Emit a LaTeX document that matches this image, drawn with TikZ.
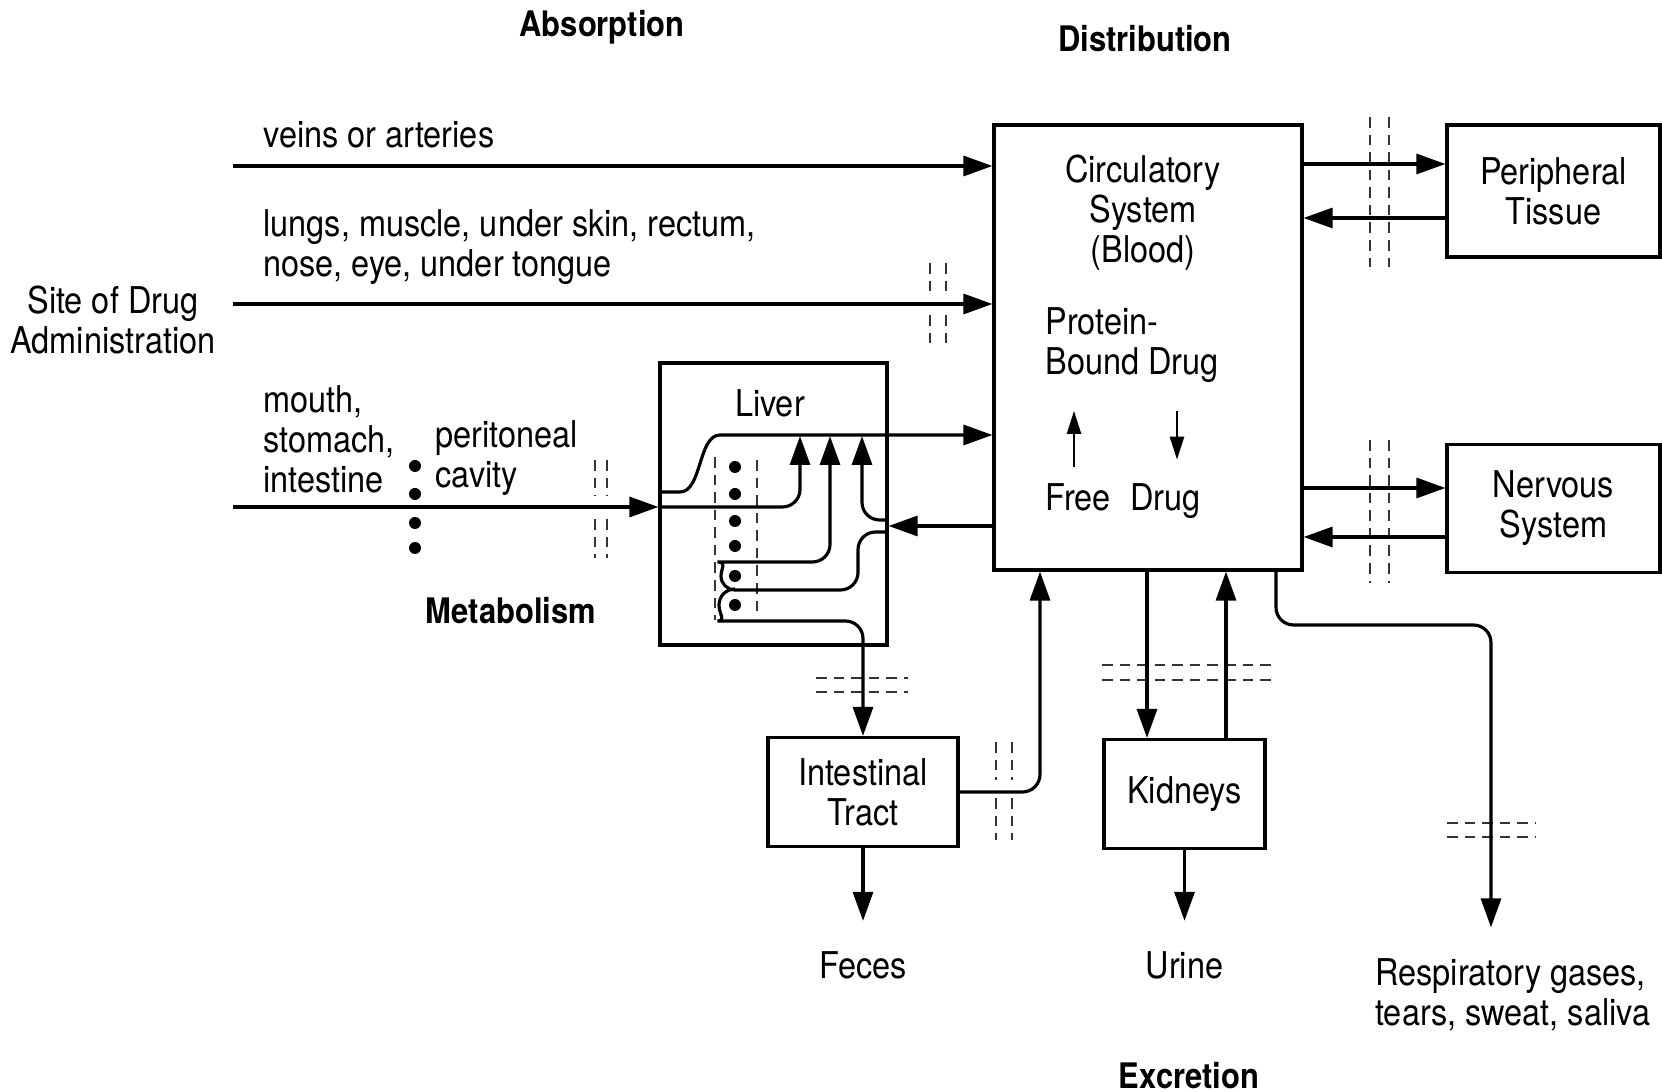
\documentclass[tikz,border=0pt]{standalone}
\usepackage{fontspec}
\setmainfont{TeX Gyre Heros}[FakeStretch=0.88]
\usetikzlibrary{calc,arrows.meta,positioning}
\tikzset{
  box/.style={draw=black, line width=0.9pt, align=center, inner sep=2pt},
  arr/.style={-{Triangle[length=2.9mm,width=2.0mm]}, line width=0.9pt},
  flow/.style={line width=0.9pt, rounded corners=5pt},
  smallarr/.style={-{Triangle[length=2.3mm,width=1.4mm]}, line width=0.7pt},
  membrane/.style={draw=black!80, line width=0.75pt, dash pattern=on 3pt off 2pt},
  phase/.style={font=\bfseries},
  dot/.style={circle, fill=black, inner sep=0pt, minimum size=0.12cm}
}
\begin{document}
\begin{tikzpicture}[font=\fontsize{10.5}{11.4}\selectfont]
  \useasboundingbox (0,0) rectangle (16.62,-10.92);

  % compartments
  \node[box, minimum width=3.08cm, minimum height=4.45cm] (circ) at (11.48,-3.475) {};
  \node[box, minimum width=2.13cm, minimum height=1.32cm] (periph) at (15.535,-1.91) {Peripheral\\Tissue};
  \node[box, minimum width=2.13cm, minimum height=1.28cm] (nerv) at (15.535,-5.085) {Nervous\\System};
  \node[box, minimum width=2.27cm, minimum height=2.82cm] (liver) at (7.735,-5.04) {};
  \node[box, minimum width=1.90cm, minimum height=1.09cm] (intest) at (8.63,-7.92) {Intestinal\\Tract};
  \node[box, minimum width=1.61cm, minimum height=1.09cm] (kid) at (11.845,-7.94) {Kidneys};

  % phase headings
  \node[phase] (absorp) at (6.02,-0.27) {Absorption};
  \node[phase] (distr) at (11.45,-0.39) {Distribution};
  \node[phase] (metab) at (5.11,-6.11) {Metabolism};
  \node[phase] (excr) at (11.89,-10.76) {Excretion};

  % inside the blood
  \node[align=center] (circtxt) at (11.43,-2.13) {Circulatory\\System\\(Blood)};
  \node[anchor=west, align=left] (bound) at (10.33,-3.45) {Protein-\\Bound Drug};
  \node[anchor=base west] (free) at (10.33,-5.11) {Free};
  \node[anchor=base west] (fdrug) at (11.18,-5.11) {Drug};
  \draw[smallarr, shorten <=0.5mm, shorten >=1.6mm] (free.north -| 10.74,0) -- (bound.south -| 10.74,0);
  \draw[smallarr, shorten <=1.6mm, shorten >=1.2mm] (bound.south -| 11.77,0) -- (fdrug.north -| 11.77,0);

  % routes of administration
  \node[align=center] (site) at (1.13,-3.20) {Site of Drug\\Administration};
  \node[anchor=west] (veinslbl) at (2.51,-1.35) {veins or arteries};
  \node[anchor=west, align=left] (lungslbl) at (2.51,-2.47) {lungs, muscle, under skin, rectum,\\nose, eye, under tongue};
  \node[anchor=west, align=left] (mouthlbl) at (2.51,-4.39) {mouth,\\stomach,\\intestine};
  \node[anchor=west, align=left] (perilbl) at (4.23,-4.58) {peritoneal\\cavity};
  \foreach \y [count=\i] in {-4.66,-4.94,-5.23,-5.48}
    \node[dot] (odot\i) at (4.15,\y) {};

  \coordinate (veins) at (2.33,-1.66);
  \coordinate (lungs) at (2.33,-3.04);
  \coordinate (mouth) at (2.33,-5.07);
  \draw[arr] (veins) -- (veins -| circ.west);
  \draw[arr] (lungs) -- (lungs -| circ.west);
  \draw[arr] (mouth) -- (mouth -| liver.west);

  % membranes
  \foreach \x in {9.30,9.46} {
    \draw[membrane] (\x,-2.63) -- (\x,-2.93);
    \draw[membrane] (\x,-3.15) -- (\x,-3.47);
  }
  \foreach \x in {5.95,6.07} {
    \draw[membrane] (\x,-4.60) -- (\x,-4.96);
    \draw[membrane] (\x,-5.19) -- (\x,-5.58);
  }
  \draw[membrane] (7.15,-4.57) -- (7.15,-6.20);
  \draw[membrane] (7.57,-4.60) -- (7.57,-6.12);
  \foreach \y in {-6.78,-6.92} \draw[membrane] (8.16,\y) -- (9.08,\y);
  \foreach \x in {9.96,10.12} {
    \draw[membrane] (\x,-7.42) -- (\x,-7.80);
    \draw[membrane] (\x,-7.98) -- (\x,-8.40);
  }
  \foreach \y in {-6.65,-6.80} \draw[membrane] (11.02,\y) -- (12.75,\y);
  \foreach \y in {-8.23,-8.37} \draw[membrane] (14.47,\y) -- (15.36,\y);
  \foreach \x in {13.70,13.89} {
    \draw[membrane] (\x,-1.17) -- (\x,-2.67);
    \draw[membrane] (\x,-4.40) -- (\x,-5.83);
  }

  % liver
  \node (liverlbl) at (7.70,-4.03) {Liver};
  \foreach \y [count=\i] in {-4.67,-4.94,-5.21,-5.46,-5.76,-6.05}
    \node[dot] (ldot\i) at (7.35,\y) {};
  \coordinate (j1) at (8.00,-4.36);
  \coordinate (j2) at (8.30,-4.36);
  \coordinate (j3) at (8.62,-4.36);
  \draw[arr] (liver.west |- 0,-4.92) -- (6.80,-4.92) .. controls (7.02,-4.92) and (6.98,-4.35) .. (7.20,-4.35) -- (circ.west |- 0,-4.35);
  \draw[arr, flow] (liver.west |- 0,-5.07) -| (j1);
  \draw[arr, flow] ([yshift=-0.14cm]ldot5.center) arc[start angle=270, end angle=90, radius=0.14cm] -| (j2);
  \draw[flow] (liver.east |- 0,-5.32) -- (8.58,-5.32) -- (8.58,-5.90) -- ([yshift=-0.14cm]ldot5.center);
  \draw[arr, flow] (liver.east |- 0,-5.20) -| (j3);
  \draw[arr, flow] ([yshift=0.16cm]ldot6.center) arc[start angle=90, end angle=270, radius=0.16cm] -| (intest.north);
  \draw[arr] (circ.west |- 0,-5.26) -- (liver.east |- 0,-5.26);

  % distribution
  \draw[arr] (circ.east |- 0,-1.64) -- (periph.west |- 0,-1.64);
  \draw[arr] (periph.west |- 0,-2.18) -- (circ.east |- 0,-2.18);
  \draw[arr] (circ.east |- 0,-4.88) -- (nerv.west |- 0,-4.88);
  \draw[arr] (nerv.west |- 0,-5.37) -- (circ.east |- 0,-5.37);

  % excretion
  \node (feces) at (8.63,-9.65) {Feces};
  \node (urine) at (11.845,-9.65) {Urine};
  \node[anchor=west, align=left] (resp) at (13.63,-9.95) {Respiratory gases,\\tears, sweat, saliva};
  \draw[arr, flow] (intest.east) -| (circ.south -| 10.40,0);
  \draw[arr] (circ.south -| 11.47,0) -- (kid.north -| 11.47,0);
  \draw[arr] (kid.north -| 12.26,0) -- (circ.south -| 12.26,0);
  \draw[arr, shorten >=1.8mm] (intest.south) -- (feces.north);
  \draw[arr, shorten >=1.8mm] (kid.south) -- (urine.north);
  \draw[arr, flow, shorten >=1.9mm] (circ.south -| 12.76,0) |- (14.91,-6.25) -- (resp.north -| 14.91,0);
\end{tikzpicture}
\end{document}
